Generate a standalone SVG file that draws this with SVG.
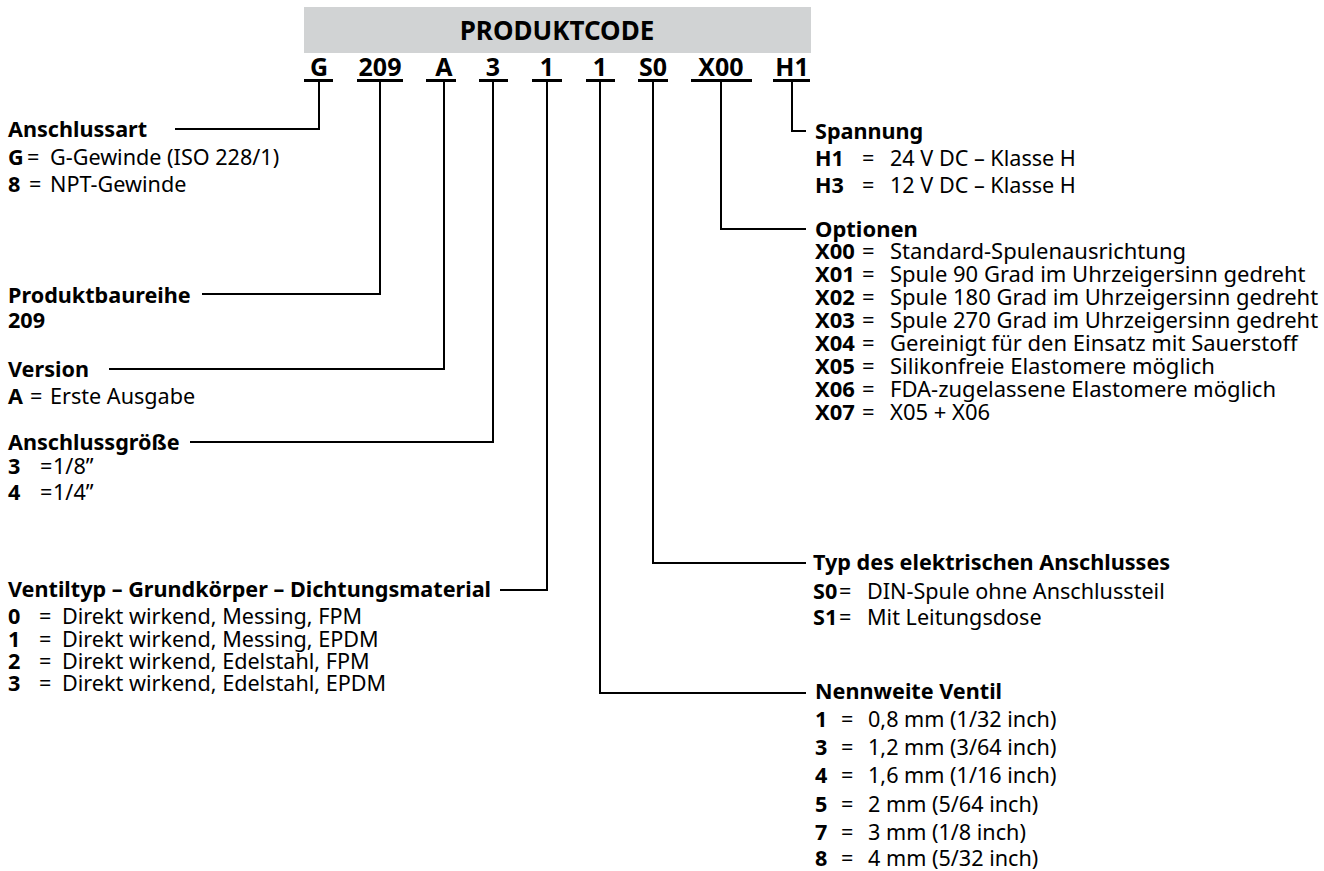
<svg xmlns="http://www.w3.org/2000/svg" width="1324" height="871" viewBox="0 0 1324 871">
<style>
text { font-family: "Noto Sans", "Open Sans", "DejaVu Sans", sans-serif; font-size: 21.6px; fill: #000; }
.b { font-weight: 700; }
.opt text { font-size: 22px; }
.code { font-size: 25px; font-weight: 700; text-anchor: middle; }
.title { font-size: 26px; font-weight: 700; text-anchor: middle; }
.ul { stroke: #000; stroke-width: 3; fill: none; }
.conn { fill: none; stroke: #000; stroke-width: 2; }
</style>
<rect width="1324" height="871" fill="#fff"/>
<g id="header">
  <rect x="304" y="7" width="507" height="46" fill="#d1d3d4"/>
  <text class="title" x="557" y="40">PRODUKTCODE</text>
</g>
<g id="code">
  <g id="code-G"><text class="code" x="319" y="76">G</text><line class="ul" x1="304" y1="80.5" x2="333" y2="80.5"/></g>
  <g id="code-209"><text class="code" x="380" y="76">209</text><line class="ul" x1="357" y1="80.5" x2="403" y2="80.5"/></g>
  <g id="code-A"><text class="code" x="444" y="76">A</text><line class="ul" x1="426" y1="80.5" x2="456" y2="80.5"/></g>
  <g id="code-3"><text class="code" x="493" y="76">3</text><line class="ul" x1="479" y1="80.5" x2="508" y2="80.5"/></g>
  <g id="code-1a"><text class="code" x="547" y="76">1</text><line class="ul" x1="532" y1="80.5" x2="562" y2="80.5"/></g>
  <g id="code-1b"><text class="code" x="600" y="76">1</text><line class="ul" x1="586" y1="80.5" x2="615" y2="80.5"/></g>
  <g id="code-S0"><text class="code" x="653" y="76">S0</text><line class="ul" x1="638" y1="80.5" x2="668" y2="80.5"/></g>
  <g id="code-X00"><text class="code" x="721" y="76">X00</text><line class="ul" x1="691" y1="80.5" x2="752" y2="80.5"/></g>
  <g id="code-H1"><text class="code" x="792" y="76">H1</text><line class="ul" x1="773" y1="80.5" x2="810" y2="80.5"/></g>
</g>
<g id="connectors">
  <path class="conn" d="M319 82 V129 H175"/>
  <path class="conn" d="M380 82 V294 H202"/>
  <path class="conn" d="M444 82 V369 H109"/>
  <path class="conn" d="M493 82 V442 H190"/>
  <path class="conn" d="M547 82 V590 H500"/>
  <path class="conn" d="M600 82 V693 H806"/>
  <path class="conn" d="M653 82 V563 H806"/>
  <path class="conn" d="M721 82 V229 H806"/>
  <path class="conn" d="M792 82 V131 H806"/>
</g>
<g id="anschlussart">
  <text class="b" x="8" y="137">Anschlussart</text>
  <text y="165"><tspan x="8" class="b">G</tspan><tspan x="27">=</tspan><tspan x="50">G-Gewinde (ISO 228/1)</tspan></text>
  <text y="192"><tspan x="8" class="b">8</tspan><tspan x="29">=</tspan><tspan x="50">NPT-Gewinde</tspan></text>
</g>
<g id="produktbaureihe">
  <text class="b" x="8" y="303">Produktbaureihe</text>
  <text class="b" x="8" y="328">209</text>
</g>
<g id="version">
  <text class="b" x="8" y="377">Version</text>
  <text y="404"><tspan x="8" class="b">A</tspan><tspan x="30">=</tspan><tspan x="50">Erste Ausgabe</tspan></text>
</g>
<g id="anschlussgroesse">
  <text class="b" x="8" y="450">Anschlussgröße</text>
  <text y="474"><tspan x="8" class="b">3</tspan><tspan x="40">=</tspan><tspan x="53">1/8”</tspan></text>
  <text y="500"><tspan x="8" class="b">4</tspan><tspan x="40">=</tspan><tspan x="53">1/4”</tspan></text>
</g>
<g id="ventiltyp">
  <text class="b" x="8" y="597">Ventiltyp – Grundkörper – Dichtungsmaterial</text>
  <text y="624"><tspan x="8" class="b">0</tspan><tspan x="39">=</tspan><tspan x="62">Direkt wirkend, Messing, FPM</tspan></text>
  <text y="647"><tspan x="8" class="b">1</tspan><tspan x="39">=</tspan><tspan x="62">Direkt wirkend, Messing, EPDM</tspan></text>
  <text y="669"><tspan x="8" class="b">2</tspan><tspan x="39">=</tspan><tspan x="62">Direkt wirkend, Edelstahl, FPM</tspan></text>
  <text y="691"><tspan x="8" class="b">3</tspan><tspan x="39">=</tspan><tspan x="62">Direkt wirkend, Edelstahl, EPDM</tspan></text>
</g>
<g id="spannung">
  <text class="b" x="815" y="139">Spannung</text>
  <text y="166"><tspan x="815" class="b">H1</tspan><tspan x="862">=</tspan><tspan x="890">24 V DC – Klasse H</tspan></text>
  <text y="193"><tspan x="815" class="b">H3</tspan><tspan x="862">=</tspan><tspan x="890">12 V DC – Klasse H</tspan></text>
</g>
<g id="optionen" class="opt">
  <text class="b" x="815" y="237">Optionen</text>
  <text y="259"><tspan x="815" class="b">X00</tspan><tspan x="862">=</tspan><tspan x="890">Standard-Spulenausrichtung</tspan></text>
  <text y="282"><tspan x="815" class="b">X01</tspan><tspan x="862">=</tspan><tspan x="890">Spule 90 Grad im Uhrzeigersinn gedreht</tspan></text>
  <text y="305"><tspan x="815" class="b">X02</tspan><tspan x="862">=</tspan><tspan x="890">Spule 180 Grad im Uhrzeigersinn gedreht</tspan></text>
  <text y="328"><tspan x="815" class="b">X03</tspan><tspan x="862">=</tspan><tspan x="890">Spule 270 Grad im Uhrzeigersinn gedreht</tspan></text>
  <text y="351"><tspan x="815" class="b">X04</tspan><tspan x="862">=</tspan><tspan x="890">Gereinigt für den Einsatz mit Sauerstoff</tspan></text>
  <text y="374"><tspan x="815" class="b">X05</tspan><tspan x="862">=</tspan><tspan x="890">Silikonfreie Elastomere möglich</tspan></text>
  <text y="397"><tspan x="815" class="b">X06</tspan><tspan x="862">=</tspan><tspan x="890">FDA-zugelassene Elastomere möglich</tspan></text>
  <text y="420"><tspan x="815" class="b">X07</tspan><tspan x="862">=</tspan><tspan x="890">X05 + X06</tspan></text>
</g>
<g id="anschlusstyp">
  <text class="b" x="813" y="570">Typ des elektrischen Anschlusses</text>
  <text y="599"><tspan x="813" class="b">S0</tspan><tspan x="839">=</tspan><tspan x="867">DIN-Spule ohne Anschlussteil</tspan></text>
  <text y="625"><tspan x="813" class="b">S1</tspan><tspan x="839">=</tspan><tspan x="867">Mit Leitungsdose</tspan></text>
</g>
<g id="nennweite">
  <text class="b" x="815" y="699">Nennweite Ventil</text>
  <text y="727"><tspan x="815" class="b">1</tspan><tspan x="841">=</tspan><tspan x="868">0,8 mm (1/32 inch)</tspan></text>
  <text y="755"><tspan x="815" class="b">3</tspan><tspan x="841">=</tspan><tspan x="868">1,2 mm (3/64 inch)</tspan></text>
  <text y="783"><tspan x="815" class="b">4</tspan><tspan x="841">=</tspan><tspan x="868">1,6 mm (1/16 inch)</tspan></text>
  <text y="812"><tspan x="815" class="b">5</tspan><tspan x="841">=</tspan><tspan x="868">2 mm (5/64 inch)</tspan></text>
  <text y="840"><tspan x="815" class="b">7</tspan><tspan x="841">=</tspan><tspan x="868">3 mm (1/8 inch)</tspan></text>
  <text y="866"><tspan x="815" class="b">8</tspan><tspan x="841">=</tspan><tspan x="868">4 mm (5/32 inch)</tspan></text>
</g>
</svg>
